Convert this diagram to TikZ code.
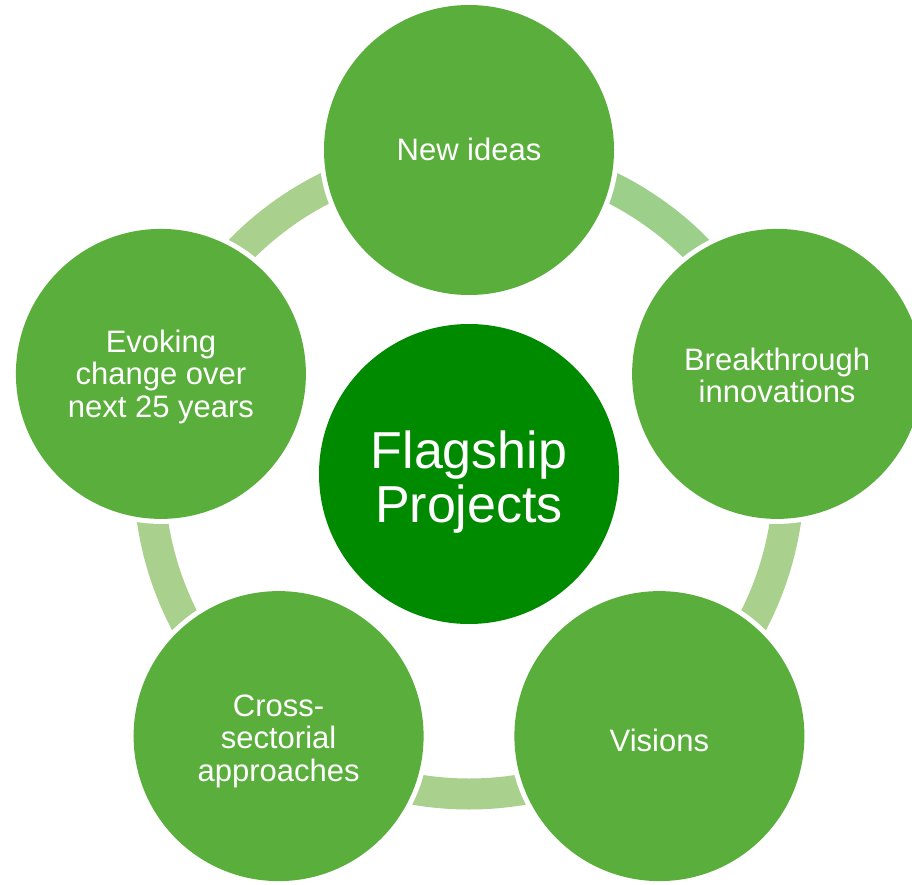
\documentclass[tikz,border=0pt]{standalone}
\usepackage{fontspec}
\setmainfont{Liberation Sans}
\definecolor{leafgreen}{RGB}{90,175,60}
\definecolor{coregreen}{RGB}{0,138,0}
\definecolor{ringgreen}{RGB}{169,208,140}
\definecolor{ringgreenB}{RGB}{156,207,138}
\tikzset{
  petal/.style={circle, inner sep=0pt, minimum size=290pt, fill=leafgreen,
    preaction={draw=white, line width=10pt}},
  petaltext/.style={text=white, align=center, inner sep=0pt,
    font=\fontsize{31}{32.5}\selectfont},
  core/.style={circle, inner sep=0pt, minimum size=300pt, fill=coregreen},
  coretext/.style={text=white, align=center, inner sep=0pt,
    font=\fontsize{52}{53.5}\selectfont},
  ringseg/.style={line width=31pt}
}
\begin{document}
\begin{tikzpicture}[x=1pt,y=-1pt]
  \useasboundingbox (0,0) rectangle (912,885);
  \coordinate (ctr) at (469,474);
  % ring segments between neighbouring petals (angles measured with y downward)
  \draw[ringseg, ringgreen]  (ctr) ++(-90:320)  arc[start angle=-90,  end angle=-162, radius=320];
  \draw[ringseg, ringgreenB] (ctr) ++(-90:320)  arc[start angle=-90,  end angle=-18,  radius=320];
  \draw[ringseg, ringgreen]  (ctr) ++(-18:320)  arc[start angle=-18,  end angle=54,   radius=320];
  \draw[ringseg, ringgreen]  (ctr) ++(54:320)   arc[start angle=54,   end angle=126,  radius=320];
  \draw[ringseg, ringgreen]  (ctr) ++(126:320)  arc[start angle=126,  end angle=198,  radius=320];
  % petals
  \node[petal] (ideas)   at (469,150)     {};
  \node[petal] (break)   at (777.1,373.9) {};
  \node[petal] (visions) at (659.4,736.1) {};
  \node[petal] (cross)   at (278.6,736.1) {};
  \node[petal] (evoke)   at (160.9,373.9) {};
  % labels (yshift is in page direction: negative moves down)
  \node[petaltext] (ideasT)   at ([yshift=0.5]ideas.center)   {New ideas};
  \node[petaltext] (breakT)   at ([yshift=-1.5]break.center)  {Breakthrough\\innovations};
  \node[petaltext] (visionsT) at ([yshift=-4]visions.center)  {Visions};
  \node[petaltext] (crossT)   at ([yshift=-5]cross.center)    {Cross-\\sectorial\\approaches};
  \node[petaltext] (evokeT)   at ([yshift=-3]evoke.center)    {Evoking\\change over\\next 25 years};
  % centre
  \node[core] (flag) at (ctr) {};
  \node[coretext] (flagT) at ([yshift=-8]flag.center) {Flagship\\Projects};
\end{tikzpicture}
\end{document}
